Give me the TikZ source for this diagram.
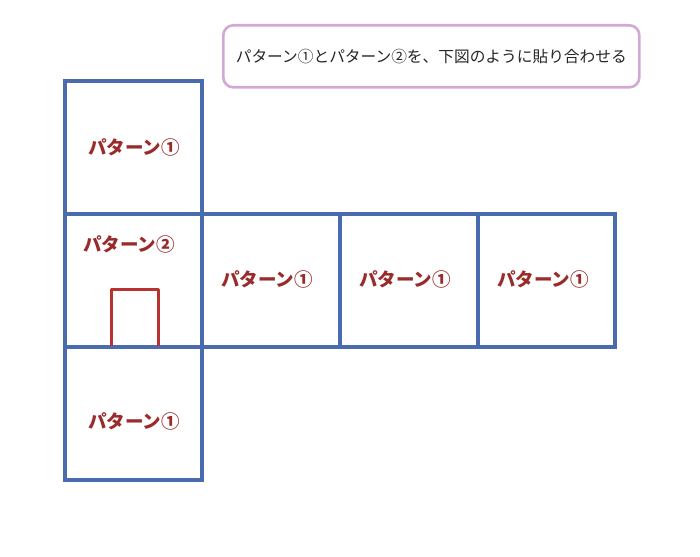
\documentclass[tikz,border=0pt]{standalone}
\usepackage{fontspec}
\newfontfamily\jp{Noto Sans CJK JP}
\definecolor{boxblue}{HTML}{4A6BAE}
\definecolor{labred}{HTML}{9A2B2B}
\definecolor{doorred}{HTML}{B83232}
\definecolor{callout}{HTML}{D3A8D6}
\begin{document}
\begin{tikzpicture}[x=1pt,y=-1pt,
  cell/.style={draw=boxblue,line width=3.4pt},
  lab/.style={font=\jp\bfseries\fontsize{18.5}{22}\selectfont,text=labred,inner sep=0pt}]
\useasboundingbox (0,0) rectangle (700,556);
\fill[white] (0,0) rectangle (700,556);
% callout
\node[draw=callout,line width=2.6pt,rounded corners=10pt,minimum width=416pt,minimum height=62pt,anchor=north west,
  font=\jp\fontsize{15.7}{20}\selectfont,text=black!85] (note) at (222,24) {パターン①とパターン②を、下図のように貼り合わせる};
% cells
\draw[cell] (65,81) rectangle (202,214);
\draw[cell] (65,214) rectangle (202,347);
\draw[cell] (202,214) rectangle (340,347);
\draw[cell] (340,214) rectangle (478,347);
\draw[cell] (478,214) rectangle (615,347);
\draw[cell] (65,347) rectangle (202,480);
% door
\draw[doorred,line width=3pt,line join=round] (111,346) -- (111,289) -- (158,289) -- (158,346);
% labels
\node[lab] (t) at (134,147) {パターン①};
\node[lab] (m) at (129,244) {パターン②};
\node[lab] (a) at (267,279) {パターン①};
\node[lab] (b) at (405,279) {パターン①};
\node[lab] (c) at (543,279) {パターン①};
\node[lab] (d) at (134,421) {パターン①};
\end{tikzpicture}
\end{document}
